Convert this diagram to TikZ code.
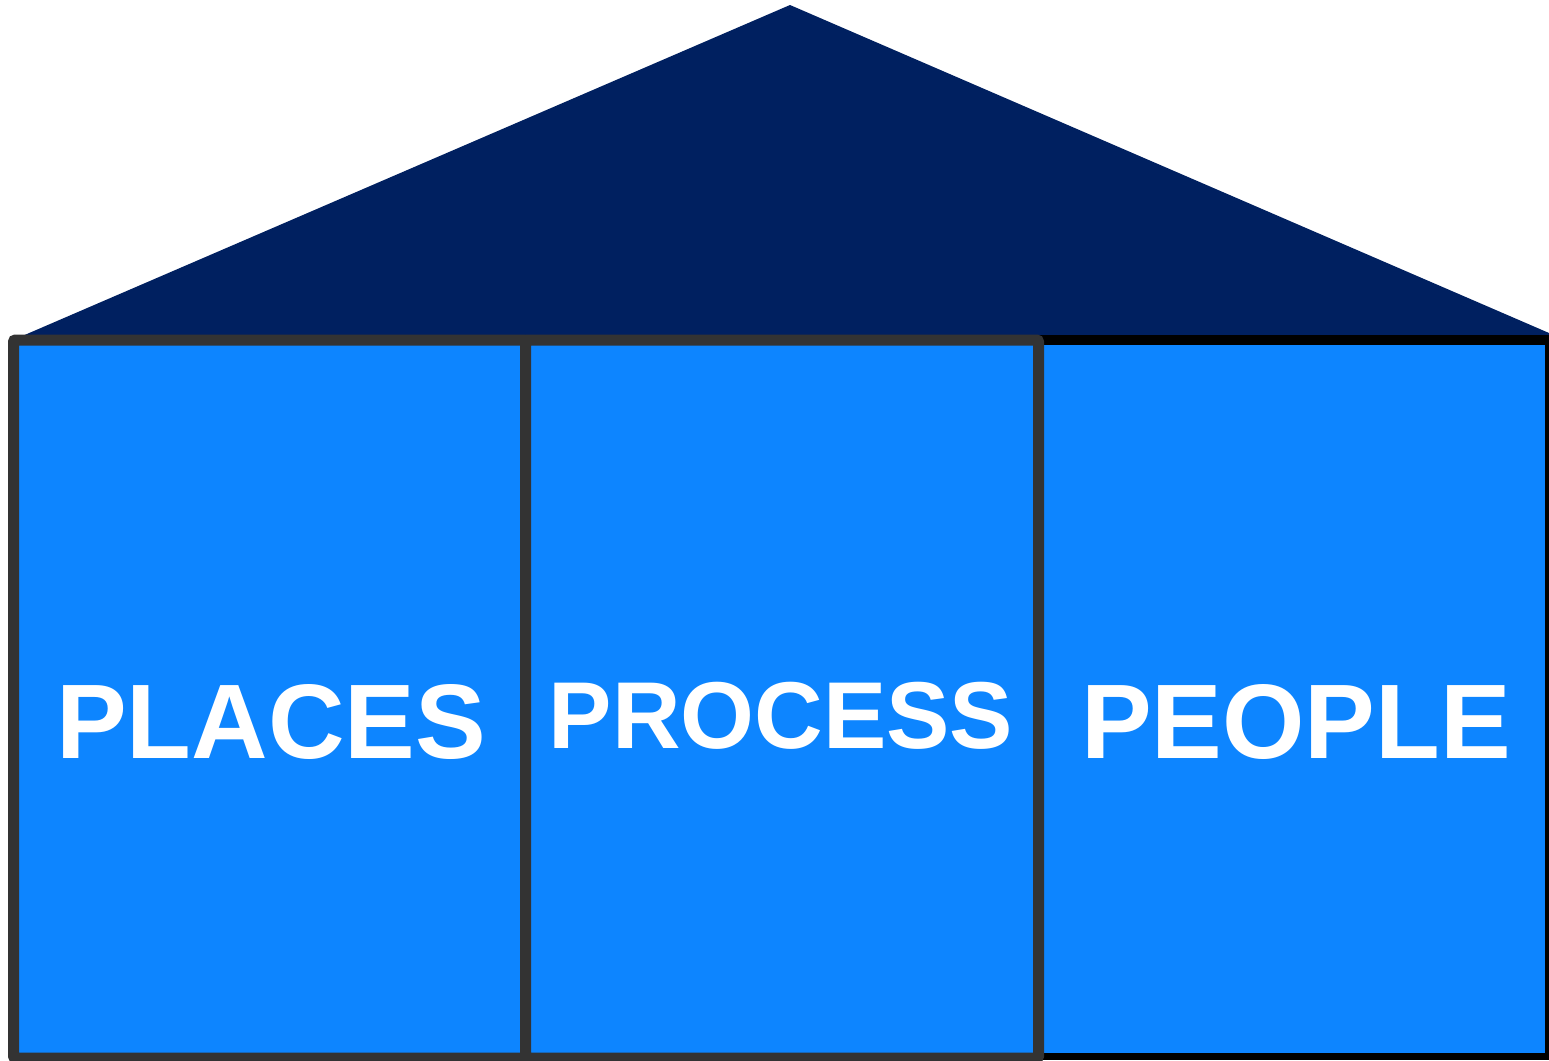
\documentclass[tikz,border=0pt]{standalone}
\usepackage{fontspec}
\setmainfont{Liberation Sans}
\definecolor{roofblue}{HTML}{002060}
\definecolor{pillarblue}{HTML}{0D85FF}
\definecolor{edgegray}{HTML}{333333}
\tikzset{
  pillar/.style={rectangle, fill=pillarblue, inner sep=0pt},
  grayed/.style={pillar, draw=edgegray, line width=11pt, rounded corners=2pt},
  label/.style={text=white, font=\bfseries, inner sep=0pt}
}
\begin{document}
\begin{tikzpicture}[x=1pt,y=-1pt]
\useasboundingbox (0,0) rectangle (1549,1060);
% roof
\fill[roofblue] (13,340) -- (790,5) -- (1549,333) -- (1549,345) -- (13,345) -- cycle;
% right pillar
\fill[black] (1038,335) rectangle (1549,1060);
\node[pillar, minimum width=501pt, minimum height=708pt] (people) at (1294.5,699) {};
% left and middle pillars
\node[grayed, minimum width=512pt, minimum height=718pt] (places) at (269.5,699) {};
\node[grayed, minimum width=513pt, minimum height=718pt] (process) at (782,699) {};
% labels
\node[label, font=\bfseries\fontsize{106}{106}\selectfont] (tplaces) at (271,722) {PLACES};
\node[label, font=\bfseries\fontsize{95}{95}\selectfont] (tprocess) at (781,716) {PROCESS};
\node[label, font=\bfseries\fontsize{106}{106}\selectfont] (tpeople) at (1296,722) {PEOPLE};
\end{tikzpicture}
\end{document}
